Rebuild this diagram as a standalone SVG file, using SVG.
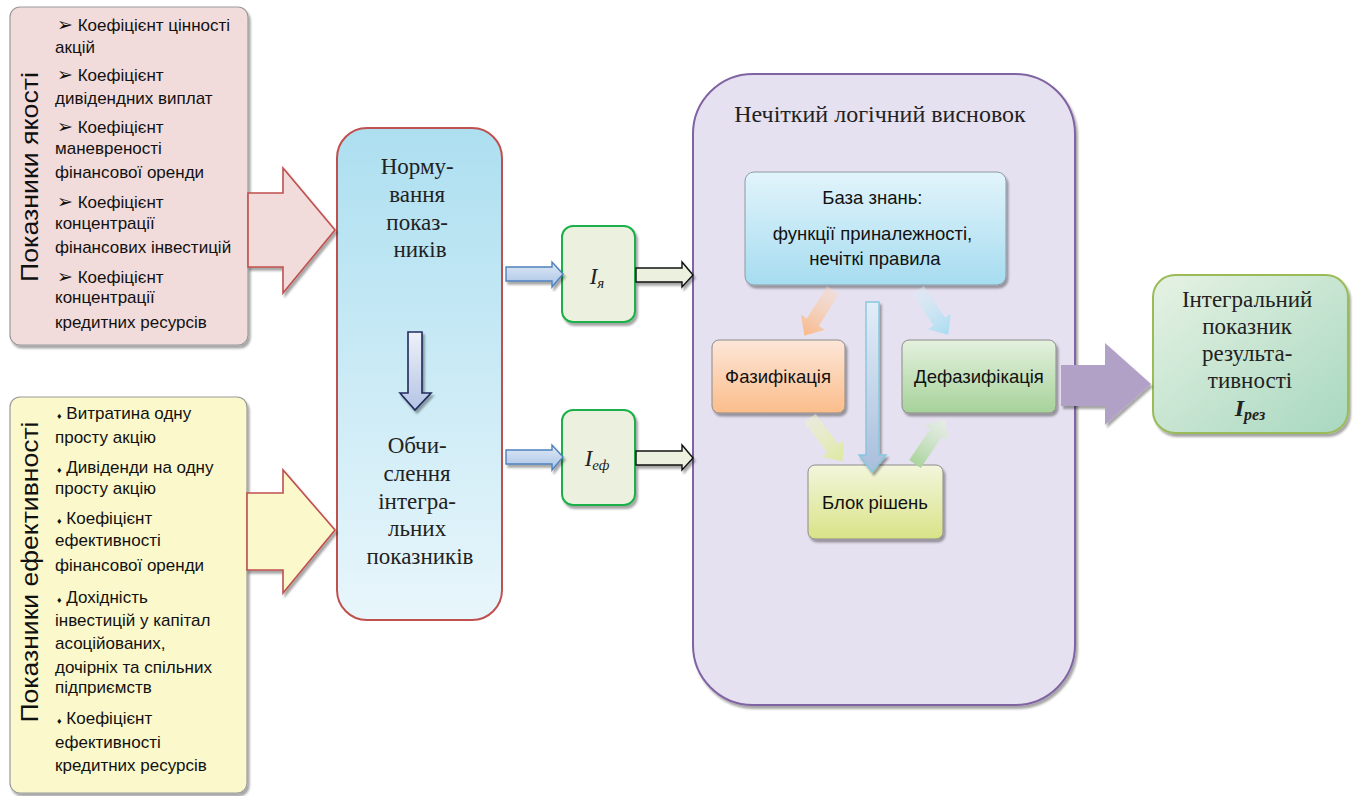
<svg xmlns="http://www.w3.org/2000/svg" width="1358" height="796" viewBox="0 0 1358 796">
<defs>
  <filter id="sh" x="-10%" y="-10%" width="130%" height="130%">
    <feDropShadow dx="2" dy="3" stdDeviation="1.2" flood-color="#000" flood-opacity="0.35"/>
  </filter>
  <linearGradient id="gBlue" x1="0" y1="0" x2="0" y2="1">
    <stop offset="0" stop-color="#addff0"/>
    <stop offset="1" stop-color="#e8f6fb"/>
  </linearGradient>
  <linearGradient id="gDown" x1="0" y1="0" x2="0" y2="1">
    <stop offset="0" stop-color="#eef1f9"/>
    <stop offset="1" stop-color="#b4c4e4"/>
  </linearGradient>
  <linearGradient id="gSmallBlue" x1="0" y1="0" x2="0" y2="1">
    <stop offset="0" stop-color="#dfe9f6"/>
    <stop offset="1" stop-color="#a9c3e6"/>
  </linearGradient>
  <linearGradient id="gKB" x1="0" y1="0" x2="0" y2="1">
    <stop offset="0" stop-color="#e2f4fb"/>
    <stop offset="1" stop-color="#a6dcf0"/>
  </linearGradient>
  <linearGradient id="gFuz" x1="0" y1="0" x2="0" y2="1">
    <stop offset="0" stop-color="#fde6d8"/>
    <stop offset="1" stop-color="#fbbd8b"/>
  </linearGradient>
  <linearGradient id="gDef" x1="0" y1="0" x2="0" y2="1">
    <stop offset="0" stop-color="#e4f1de"/>
    <stop offset="1" stop-color="#a6d29a"/>
  </linearGradient>
  <linearGradient id="gDec" x1="0" y1="0" x2="0" y2="1">
    <stop offset="0" stop-color="#f3f6dc"/>
    <stop offset="1" stop-color="#d8e387"/>
  </linearGradient>
  <linearGradient id="gVert" x1="0" y1="0" x2="0" y2="1">
    <stop offset="0" stop-color="#e3edf8"/>
    <stop offset="1" stop-color="#a9bedc"/>
  </linearGradient>
  <linearGradient id="gRes" x1="0" y1="0" x2="1" y2="1">
    <stop offset="0" stop-color="#e6f2e4"/>
    <stop offset="1" stop-color="#a8d8bf"/>
  </linearGradient>
  <linearGradient id="gOr" x1="0" y1="0" x2="1" y2="0">
    <stop offset="0" stop-color="#fbd6b8" stop-opacity="0.4"/>
    <stop offset="1" stop-color="#f9b98a"/>
  </linearGradient>
  <linearGradient id="gCy" x1="0" y1="0" x2="1" y2="0">
    <stop offset="0" stop-color="#d8eef8" stop-opacity="0.4"/>
    <stop offset="1" stop-color="#a8dcf1"/>
  </linearGradient>
  <linearGradient id="gYg" x1="0" y1="0" x2="1" y2="0">
    <stop offset="0" stop-color="#eef3c8" stop-opacity="0.5"/>
    <stop offset="1" stop-color="#dde9a0"/>
  </linearGradient>
  <linearGradient id="gGr" x1="0" y1="0" x2="1" y2="0">
    <stop offset="0" stop-color="#a9d49c"/>
    <stop offset="1" stop-color="#e6f2e0" stop-opacity="0.6"/>
  </linearGradient>
  <path id="arr" d="M0,-7 L38,-7 L38,-14 L54,0 L38,14 L38,7 L0,7 Z"/>
</defs>
<style>
  .sans { font-family: "Liberation Sans", "DejaVu Sans", sans-serif; fill: #111; }
  .serif { font-family: "Liberation Serif", "DejaVu Serif", serif; fill: #222; }
  .list { font-size: 17px; }
  .bul { font-family: "DejaVu Sans", sans-serif; font-size: 19px; }
  .dia { font-size: 9px; }
  .vert { font-size: 23px; }
  .big { font-size: 23px; text-anchor: middle; }
  .mid { font-size: 18.5px; text-anchor: middle; }
</style>

<rect width="1358" height="796" fill="#ffffff"/>

<g id="quality">
  <rect x="10" y="7" width="238" height="338" rx="10" fill="#f2dcdb" stroke="#9a9a9a" stroke-width="1.2" filter="url(#sh)"/>
  <text class="sans vert" transform="translate(38,177) rotate(-90)" text-anchor="middle" textLength="210" lengthAdjust="spacingAndGlyphs">Показники якості</text>
  <text class="sans list">
    <tspan x="57" y="31"><tspan class="bul">➢</tspan> Коефіцієнт цінності</tspan>
    <tspan x="55" y="53">акцій</tspan>
    <tspan x="57" y="81"><tspan class="bul">➢</tspan> Коефіцієнт</tspan>
    <tspan x="55" y="104">дивідендних виплат</tspan>
    <tspan x="57" y="133"><tspan class="bul">➢</tspan> Коефіцієнт</tspan>
    <tspan x="55" y="154">маневреності</tspan>
    <tspan x="55" y="178">фінансової оренди</tspan>
    <tspan x="57" y="208"><tspan class="bul">➢</tspan> Коефіцієнт</tspan>
    <tspan x="55" y="229">концентрації</tspan>
    <tspan x="55" y="253">фінансових інвестицій</tspan>
    <tspan x="57" y="283"><tspan class="bul">➢</tspan> Коефіцієнт</tspan>
    <tspan x="55" y="303">концентрації</tspan>
    <tspan x="55" y="328">кредитних ресурсів</tspan>
  </text>
</g>

<g id="efficiency">
  <rect x="10" y="397" width="237" height="396" rx="10" fill="#fbf8cb" stroke="#9a9a9a" stroke-width="1.2" filter="url(#sh)"/>
  <text class="sans vert" transform="translate(38,572) rotate(-90)" text-anchor="middle" textLength="301" lengthAdjust="spacingAndGlyphs">Показники ефективності</text>
  <text class="sans list">
    <tspan x="57" y="419"><tspan class="dia">♦</tspan> Витратина одну</tspan>
    <tspan x="55" y="443">просту акцію</tspan>
    <tspan x="57" y="473"><tspan class="dia">♦</tspan> Дивіденди на одну</tspan>
    <tspan x="55" y="494">просту акцію</tspan>
    <tspan x="57" y="524"><tspan class="dia">♦</tspan> Коефіцієнт</tspan>
    <tspan x="55" y="546">ефективності</tspan>
    <tspan x="55" y="571">фінансової оренди</tspan>
    <tspan x="57" y="603"><tspan class="dia">♦</tspan> Дохідність</tspan>
    <tspan x="55" y="626">інвестицій у капітал</tspan>
    <tspan x="55" y="649">асоційованих,</tspan>
    <tspan x="55" y="673">дочірніх та спільних</tspan>
    <tspan x="55" y="693">підприємств</tspan>
    <tspan x="57" y="724"><tspan class="dia">♦</tspan> Коефіцієнт</tspan>
    <tspan x="55" y="748">ефективності</tspan>
    <tspan x="55" y="771">кредитних ресурсів</tspan>
  </text>
</g>

<g id="norm">
  <rect x="337" y="128" width="165" height="492" rx="30" fill="url(#gBlue)" stroke="#c0504d" stroke-width="2"/>
  <text class="serif big">
    <tspan x="420" y="174">Норму-</tspan>
    <tspan x="420" y="202">вання</tspan>
    <tspan x="420" y="230">показ-</tspan>
    <tspan x="420" y="257">ників</tspan>
  </text>
  <path d="M408,332 L422,332 L422,393 L431,393 L415,410 L400,393 L408,393 Z" fill="url(#gDown)" stroke="#1f2a5c" stroke-width="1.6" filter="url(#sh)"/>
  <text class="serif big">
    <tspan x="420" y="453">Обчи-</tspan>
    <tspan x="420" y="481">слення</tspan>
    <tspan x="420" y="509">інтегра-</tspan>
    <tspan x="420" y="536">льних</tspan>
    <tspan x="420" y="564">показників</tspan>
  </text>
</g>

<g id="iya">
  <rect x="562" y="226" width="73" height="96" rx="11" fill="#ebf1de" stroke="#1fb04b" stroke-width="2" filter="url(#sh)"/>
  <text class="serif" x="597" y="284" text-anchor="middle" font-size="23" font-style="italic">I<tspan font-size="15" dy="4">я</tspan></text>
</g>

<g id="ief">
  <rect x="562" y="410" width="73" height="95" rx="11" fill="#ebf1de" stroke="#1fb04b" stroke-width="2" filter="url(#sh)"/>
  <text class="serif" x="597" y="466" text-anchor="middle" font-size="23" font-style="italic">I<tspan font-size="15" dy="4">еф</tspan></text>
</g>

<g id="fuzzy">
  <rect x="693" y="74" width="382" height="631" rx="60" fill="#e6e1f0" stroke="#8064a2" stroke-width="2" filter="url(#sh)"/>
  <text class="serif" x="880" y="122" text-anchor="middle" font-size="24" fill="#333">Нечіткий логічний висновок</text>
</g>

<g id="kb">
  <rect x="745" y="172" width="261" height="113" rx="9" fill="url(#gKB)" stroke="#8a9aa3" stroke-width="1" filter="url(#sh)"/>
  <text class="sans mid">
    <tspan x="875" y="204">База знань:</tspan>
    <tspan x="875" y="240">функції приналежності,</tspan>
    <tspan x="875" y="265">нечіткі правила</tspan>
  </text>
</g>

<g id="fuzz">
  <rect x="712" y="340" width="133" height="73" rx="7" fill="url(#gFuz)" stroke="#8a8a8a" stroke-width="1" filter="url(#sh)"/>
  <text class="sans mid" x="778" y="383">Фазифікація</text>
</g>

<g id="defuzz">
  <rect x="902" y="340" width="154" height="73" rx="7" fill="url(#gDef)" stroke="#8a8a8a" stroke-width="1" filter="url(#sh)"/>
  <text class="sans mid" x="979" y="383">Дефазифікація</text>
</g>

<g id="decision">
  <rect x="808" y="465" width="135" height="74" rx="7" fill="url(#gDec)" stroke="#8a8a8a" stroke-width="1" filter="url(#sh)"/>
  <text class="sans mid" x="875" y="509">Блок рішень</text>
</g>

<g id="result">
  <rect x="1153" y="275" width="195" height="158" rx="22" fill="url(#gRes)" stroke="#9bbb59" stroke-width="2" filter="url(#sh)"/>
  <text class="serif" font-size="23" text-anchor="middle">
    <tspan x="1250" y="307">Інтегральний</tspan>
    <tspan x="1250" y="334">показник</tspan>
    <tspan x="1250" y="361">результа-</tspan>
    <tspan x="1250" y="388">тивності</tspan>
  </text>
  <text class="serif" x="1250" y="416" text-anchor="middle" font-size="24" font-weight="bold" font-style="italic">I<tspan font-size="16" dy="4">рез</tspan></text>
</g>

<g id="connectors">
  <path d="M248,193 L283,193 L283,168 L335,230 L283,293 L283,267 L248,267 Z" fill="#f2dcdb" stroke="#c0504d" stroke-width="1.6" filter="url(#sh)"/>
  <path d="M247,493 L283,493 L283,470 L335,530 L283,593 L283,570 L247,570 Z" fill="#fbf8cb" stroke="#c0504d" stroke-width="1.6" filter="url(#sh)"/>
  <path d="M506,267 L552,267 L552,262 L563,274 L552,287 L552,281 L506,281 Z" fill="url(#gSmallBlue)" stroke="#4f81bd" stroke-width="1.4" filter="url(#sh)"/>
  <path d="M506,450 L552,450 L552,445 L563,457 L552,470 L552,464 L506,464 Z" fill="url(#gSmallBlue)" stroke="#4f81bd" stroke-width="1.4" filter="url(#sh)"/>
  <path d="M636,268 L682,268 L682,262 L693,275 L682,287 L682,282 L636,282 Z" fill="#ebf1de" stroke="#111" stroke-width="1.4" filter="url(#sh)"/>
  <path d="M636,451 L682,451 L682,445 L693,458 L682,470 L682,465 L636,465 Z" fill="#ebf1de" stroke="#111" stroke-width="1.4" filter="url(#sh)"/>
  <path d="M866,302 L879,302 L879,455 L886,455 L872,472 L859,455 L866,455 Z" fill="url(#gVert)" stroke="#86c8dd" stroke-width="1.4" filter="url(#sh)"/>
  <use href="#arr" fill="url(#gOr)" transform="translate(833,290) rotate(122)"/>
  <use href="#arr" fill="url(#gCy)" transform="translate(918,290) rotate(56)"/>
  <use href="#arr" fill="url(#gYg)" transform="translate(810,418) rotate(53)"/>
  <use href="#arr" fill="url(#gGr)" transform="translate(915,464) rotate(-56)"/>
  <path d="M1061,365 L1105,365 L1105,343 L1151,384 L1105,425 L1105,406 L1061,406 Z" fill="#b2a1c7" filter="url(#sh)"/>
</g>
</svg>
